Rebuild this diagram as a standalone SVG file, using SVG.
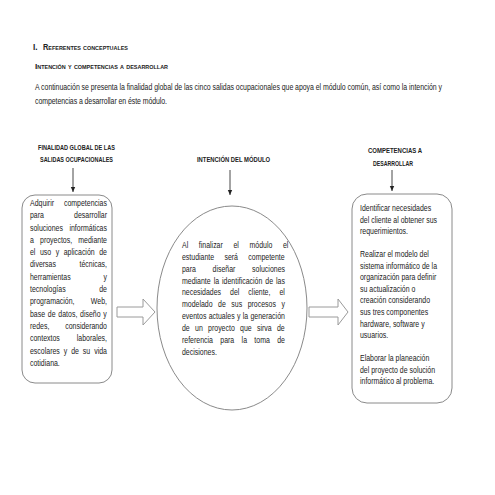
<svg xmlns="http://www.w3.org/2000/svg" width="495" height="495" viewBox="0 0 495 495">
<defs>
<style>
text{font-family:"Liberation Sans",Arial,sans-serif;fill:#222;}
.b{font-size:8.5px;}
.h{font-size:7.3px;font-weight:bold;}
.t{font-weight:bold;font-variant:small-caps;}
.box{fill:#fff;stroke:#8a8a8a;stroke-width:1;}
.blk{fill:#fff;stroke:#9a9a9a;stroke-width:1;}
.ln{stroke:#333;stroke-width:0.9;fill:none;}
</style>
<marker id="ah" markerWidth="6" markerHeight="6" refX="5" refY="3" orient="auto" markerUnits="userSpaceOnUse">
<path d="M0,0.8 L5,3 L0,5.2 Z" fill="#222"/>
</marker>
</defs>
<rect width="495" height="495" fill="#fff"/>

<g id="title">
<text x="33" y="50" class="t" font-size="8.2">I.</text>
<text x="43" y="50" class="t" font-size="8.2" textLength="85" lengthAdjust="spacingAndGlyphs">Referentes conceptuales</text>
<text x="35" y="69" class="t" font-size="7.6" textLength="133" lengthAdjust="spacingAndGlyphs">Intención y competencias a desarrollar</text>
</g>

<g id="intro" transform="scale(0.82,1)">
<text class="b" x="42.68" y="90" textLength="496.3" lengthAdjust="spacing">A continuación se presenta la finalidad global de las cinco salidas ocupacionales que apoya el módulo común, así como la intención y</text>
<text class="b" x="42.68" y="104" textLength="161" lengthAdjust="spacing">competencias a desarrollar en éste módulo.</text>
</g>

<g id="headers">
<text class="h" x="38" y="150" textLength="77" lengthAdjust="spacingAndGlyphs">FINALIDAD GLOBAL DE LAS</text>
<text class="h" x="40" y="162" textLength="73" lengthAdjust="spacingAndGlyphs">SALIDAS OCUPACIONALES</text>
<text class="h" x="197" y="162" textLength="73" lengthAdjust="spacingAndGlyphs">INTENCIÓN DEL MÓDULO</text>
<text class="h" x="368" y="153" textLength="54" lengthAdjust="spacingAndGlyphs">COMPETENCIAS A</text>
<text class="h" x="373" y="166" textLength="40" lengthAdjust="spacingAndGlyphs">DESARROLLAR</text>
</g>

<g id="connectors">
<line class="ln" x1="73" y1="168" x2="73" y2="192" marker-end="url(#ah)"/>
<line class="ln" x1="230" y1="170" x2="230" y2="195" marker-end="url(#ah)"/>
<line class="ln" x1="392" y1="170" x2="392" y2="191" marker-end="url(#ah)"/>
<polygon class="blk" points="117,307 143,307 143,299 155,312 143,325 143,317 117,317"/>
<polygon class="blk" points="309,307 338,307 338,299 348,312 338,325 338,317 309,317"/>
</g>

<g id="finalidad">
<rect class="box" x="22" y="195" width="90" height="188" rx="13" ry="13"/>
<g transform="scale(0.82,1)">
<text class="b" x="36.59" y="206" word-spacing="9.8">Adquirir competencias</text>
<text class="b" x="36.59" y="218.3">para</text><text class="b" x="130.49" y="218.3" text-anchor="end">desarrollar</text>
<text class="b" x="36.59" y="230.6" word-spacing="5.6">soluciones informáticas</text>
<text class="b" x="36.59" y="242.9" word-spacing="5.15">a proyectos, mediante</text>
<text class="b" x="36.59" y="255.2" word-spacing="3.15">el uso y aplicación de</text>
<text class="b" x="36.59" y="267.5">diversas</text><text class="b" x="130.49" y="267.5" text-anchor="end">técnicas,</text>
<text class="b" x="36.59" y="279.8">herramientas</text><text class="b" x="130.49" y="279.8" text-anchor="end">y</text>
<text class="b" x="36.59" y="292.1">tecnologías</text><text class="b" x="130.49" y="292.1" text-anchor="end">de</text>
<text class="b" x="36.59" y="304.4">programación,</text><text class="b" x="130.49" y="304.4" text-anchor="end">Web,</text>
<text class="b" x="36.59" y="316.7" word-spacing="1">base de datos, diseño y</text>
<text class="b" x="36.59" y="329">redes,</text><text class="b" x="130.49" y="329" text-anchor="end">considerando</text>
<text class="b" x="36.59" y="341.3">contextos</text><text class="b" x="130.49" y="341.3" text-anchor="end">laborales,</text>
<text class="b" x="36.59" y="353.6" word-spacing="2.45">escolares y de su vida</text>
<text class="b" x="36.59" y="365.9">cotidiana.</text>
</g>
</g>

<g id="intencion">
<ellipse class="box" cx="232" cy="308" rx="75" ry="102"/>
<g transform="scale(0.82,1)">
<text class="b" x="221.95" y="248" word-spacing="10.6">Al finalizar el módulo el</text>
<text class="b" x="221.95" y="259.9" word-spacing="10.2">estudiante será competente</text>
<text class="b" x="221.95" y="271.7">para</text><text class="b" x="273.2" y="271.7" text-anchor="middle">diseñar</text><text class="b" x="347.56" y="271.7" text-anchor="end">soluciones</text>
<text class="b" x="221.95" y="283.6" word-spacing="1.3">mediante la identificación de las</text>
<text class="b" x="221.95" y="295.4" word-spacing="8.6">necesidades del cliente, el</text>
<text class="b" x="221.95" y="307.3" word-spacing="4.35">modelado de sus procesos y</text>
<text class="b" x="221.95" y="319.1" word-spacing="0.45">eventos actuales y la generación</text>
<text class="b" x="221.95" y="331" word-spacing="4.1">de un proyecto que sirva de</text>
<text class="b" x="221.95" y="342.8" word-spacing="6.6">referencia para la toma de</text>
<text class="b" x="221.95" y="354.7">decisiones.</text>
</g>
</g>

<g id="competencias">
<rect class="box" x="352" y="194" width="100" height="209" rx="15" ry="15"/>
<g transform="scale(0.82,1)">
<text class="b" x="439.02" y="211">Identificar necesidades</text>
<text class="b" x="439.02" y="222.6">del cliente al obtener sus</text>
<text class="b" x="439.02" y="234.2">requerimientos.</text>
<text class="b" x="439.02" y="257">Realizar el modelo del</text>
<text class="b" x="439.02" y="268.6">sistema informático de la</text>
<text class="b" x="439.02" y="280.2">organización para definir</text>
<text class="b" x="439.02" y="291.8">su actualización o</text>
<text class="b" x="439.02" y="303.4">creación considerando</text>
<text class="b" x="439.02" y="315">sus tres componentes</text>
<text class="b" x="439.02" y="326.6">hardware, software y</text>
<text class="b" x="439.02" y="338.2">usuarios.</text>
<text class="b" x="439.02" y="361">Elaborar la planeación</text>
<text class="b" x="439.02" y="372.6">del proyecto de solución</text>
<text class="b" x="439.02" y="384.2">informático al problema.</text>
</g>
</g>
</svg>
